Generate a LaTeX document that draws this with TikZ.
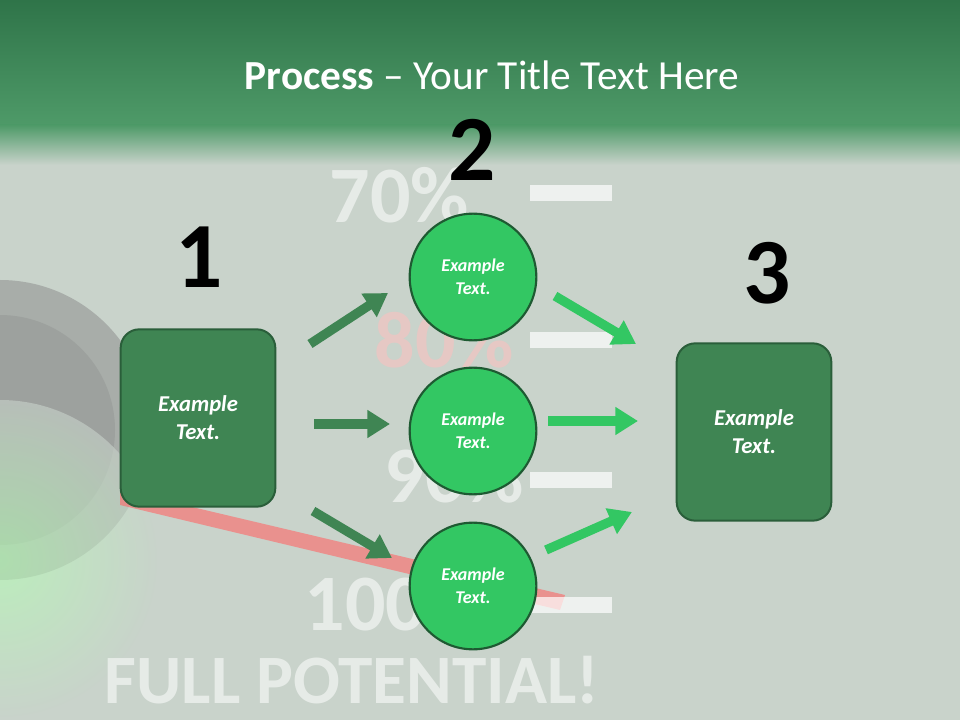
\documentclass[tikz,border=0pt]{standalone}
\usepackage{fontspec}
\setmainfont{Carlito}
\usetikzlibrary{arrows.meta}
\definecolor{bg}{HTML}{C9D3CB}
\definecolor{barT}{HTML}{2F7449}
\definecolor{barB}{HTML}{4E9A68}
\definecolor{boxg}{HTML}{3F8553}
\definecolor{boxb}{HTML}{2A5E3A}
\definecolor{cirg}{HTML}{33C763}
\definecolor{cirb}{HTML}{1E5A32}
\tikzset{
 box/.style={draw=boxb,line width=1.5pt,fill=boxg,rounded corners=14pt,minimum width=116pt,minimum height=133pt,text=white,font=\fontsize{17}{21}\selectfont\bfseries\itshape,align=center},
 cir/.style={draw=cirb,line width=1.6pt,fill=cirg,circle,minimum size=95pt,text=white,font=\fontsize{13.5}{17}\selectfont\bfseries\itshape,align=center},
 num/.style={font=\fontsize{70}{70}\selectfont\bfseries,text=black},
 darr/.style={draw=boxg,line width=7pt,-{Triangle[length=17pt,width=20pt]}},
 larr/.style={draw=cirg,line width=7pt,-{Triangle[length=17pt,width=20pt]}},
 bgtxt/.style={text=white,opacity=0.55,font=\fontsize{60}{60}\selectfont\bfseries}
}
\begin{document}
\begin{tikzpicture}[x=0.75pt,y=-0.75pt]
\useasboundingbox (0,0) rectangle (960,720);
\fill[bg] (0,0) rectangle (960,720);
% background photo hints
\fill[gray!45!bg] (0,430) circle (150);
\fill[gray!60!bg] (0,430) circle (115);
\shade[inner color=green!30!white,outer color=bg,opacity=0.6] (0,560) circle (160);
\draw[white,opacity=0.7,line width=20pt] (750,130) arc[start angle=160,end angle=200,radius=1400];
\draw[white,opacity=0.5,line width=6pt] (860,130) arc[start angle=165,end angle=195,radius=2200];
\fill[red!60!white,opacity=0.6] (120,490) -- (565,595) -- (560,610) -- (120,505) -- cycle;
\node[bgtxt,anchor=west] (t70) at (325,195) {70\%};
\node[bgtxt,anchor=west,text=pink] (t80) at (370,340) {80\%};
\node[bgtxt,anchor=west] (t90) at (380,475) {90\%};
\node[bgtxt,anchor=west] (t100) at (300,605) {100};
\node[bgtxt,anchor=west,font=\fontsize{52}{52}\selectfont\bfseries] (tfp) at (100,680) {FULL POTENTIAL!};
\foreach \y in {193,340,480,605} \fill[white,opacity=0.7] (530,\y-8) rectangle (612,\y+8);
% title bar
\shade[top color=barT,bottom color=barB] (0,0) rectangle (960,125);
\shade[top color=barB,bottom color=bg] (0,125) rectangle (960,165);
\node[text=white,font=\fontsize{31}{33}\selectfont] (title) at (492,75) {\textbf{Process} -- Your Title Text Here};
% numbers
\node[num] (n1) at (199,257) {1};
\node[num] (n2) at (472,150) {2};
\node[num] (n3) at (767,273) {3};
% boxes and circles
\node[box] (b1) at (198,418) {Example\\Text.};
\node[box] (b3) at (754,432) {Example\\Text.};
\node[cir] (c1) at (473,277) {Example\\Text.};
\node[cir] (c2) at (473,431) {Example\\Text.};
\node[cir] (c3) at (473,586) {Example\\Text.};
% arrows
\coordinate (a1s) at (310,344); \coordinate (a1e) at (388,293);
\coordinate (a2s) at (314,424); \coordinate (a2e) at (390,424);
\coordinate (a3s) at (313,511); \coordinate (a3e) at (392,558);
\coordinate (l1s) at (555,296); \coordinate (l1e) at (636,344);
\coordinate (l2s) at (548,421); \coordinate (l2e) at (638,421);
\coordinate (l3s) at (546,550); \coordinate (l3e) at (632,512);
\draw[darr] (a1s) -- (a1e);
\draw[darr] (a2s) -- (a2e);
\draw[darr] (a3s) -- (a3e);
\draw[larr] (l1s) -- (l1e);
\draw[larr] (l2s) -- (l2e);
\draw[larr] (l3s) -- (l3e);
\end{tikzpicture}
\end{document}
